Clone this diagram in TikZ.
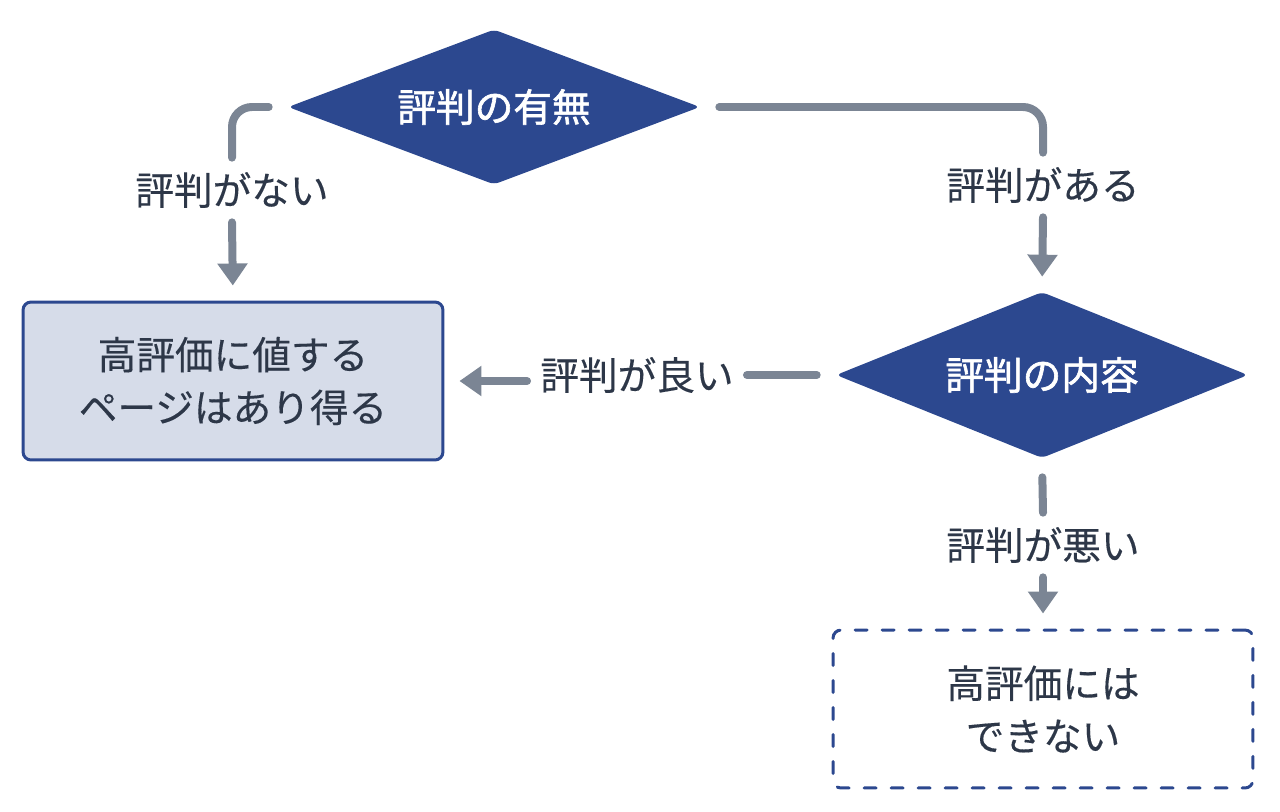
\documentclass[tikz,border=0pt]{standalone}
\usepackage{fontspec}
\newfontfamily\jpfont[FakeBold=0.3]{Noto Sans CJK JP}
\newfontfamily\jpmid[FakeBold=1.6]{Noto Sans CJK JP}
\usetikzlibrary{shapes.geometric,arrows.meta}
\definecolor{navy}{RGB}{44,72,143}
\definecolor{boxfill}{RGB}{214,220,233}
\definecolor{linegray}{RGB}{123,133,148}
\definecolor{textc}{RGB}{45,55,72}
\begin{document}
\begin{tikzpicture}[x=0.02cm,y=-0.02cm,
    every node/.style={font=\jpfont\fontsize{22}{30}\selectfont, text=textc},
    decision/.style={diamond, fill=navy, text=white, inner sep=0pt, aspect=2.7,
      minimum width=8.24cm, minimum height=3.1cm, rounded corners=3pt,
      font=\jpmid\fontsize{22}{30}\selectfont},
    result/.style={rectangle, draw=navy, line width=0.06cm, align=center,
      minimum width=8.4cm, minimum height=3.16cm, rounded corners=0.16cm},
    lbl/.style={inner sep=0pt, inner xsep=0.26cm, minimum height=1.28cm},
    conn/.style={draw=linegray, line width=0.16cm, line cap=round,
      rounded corners=0.4cm, shorten <=0.38cm},
    arr/.style={draw=linegray, line width=0.16cm, line cap=round,
      -{Triangle[width=0.58cm,length=0.44cm]}, shorten >=0.3cm}]
  \useasboundingbox (0,0) rectangle (1280,811);
  % decisions
  \node[decision] (umu) at (494,107) {評判の有無};
  \node[decision, minimum height=3.32cm] (naiyo) at (1042,375) {評判の内容};
  % results
  \node[result, fill=boxfill] (ok) at (233,381) {高評価に値する\\ページはあり得る};
  \node[result, dash pattern=on 0.24cm off 0.3cm, line cap=round] (ng) at (1043,709)
    {高評価には\\できない};
  % branch labels
  \node[lbl] (nai) at (232,190) {評判がない};
  \node[lbl] (aru) at (1043,185) {評判がある};
  \node[lbl] (yoi) at (637,375) {評判が良い};
  \node[lbl] (warui) at (1043,545) {評判が悪い};
  % connectors
  \draw[conn] (umu.west) -| (nai.north);
  \draw[arr] (nai.south) -- (ok.north);
  \draw[conn] (umu.east) -| (aru.north);
  \draw[arr] (aru.south) -- (naiyo.north);
  \draw[conn] (naiyo.west) -- (yoi.east);
  \draw[arr] (yoi.west |- ok.east) -- (ok.east);
  \draw[conn] (naiyo.south) -- (warui.north);
  \draw[arr] (warui.south) -- (ng.north);
\end{tikzpicture}
\end{document}
